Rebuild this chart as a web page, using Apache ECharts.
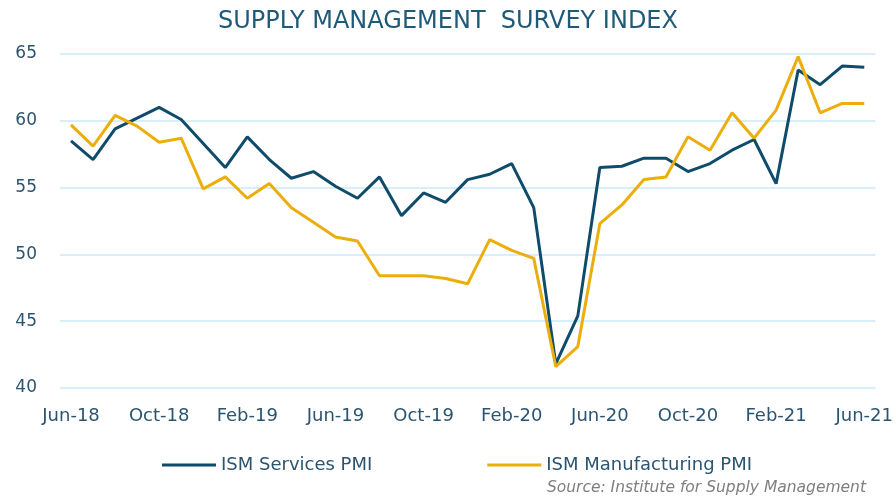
<!DOCTYPE html>
<html>
<head>
<meta charset="utf-8">
<script src="https://cdn.jsdelivr.net/npm/echarts@6/dist/echarts.min.js"></script>
<style>
html,body{margin:0;padding:0;background:#fff;}
#chart{width:896px;height:502px;}
</style>
</head>
<body>
<div id="chart"></div>
<script>
const months = ['Jun-18','Jul-18','Aug-18','Sep-18','Oct-18','Nov-18','Dec-18','Jan-19','Feb-19','Mar-19','Apr-19','May-19',
  'Jun-19','Jul-19','Aug-19','Sep-19','Oct-19','Nov-19','Dec-19','Jan-20','Feb-20','Mar-20','Apr-20','May-20',
  'Jun-20','Jul-20','Aug-20','Sep-20','Oct-20','Nov-20','Dec-20','Jan-21','Feb-21','Mar-21','Apr-21','May-21','Jun-21'];
const services = [58.5,57.1,59.4,60.2,61.0,60.1,58.3,56.5,58.8,57.1,55.7,56.2,
  55.1,54.2,55.8,52.9,54.6,53.9,55.6,56.0,56.8,53.5,41.8,45.4,
  56.5,56.6,57.2,57.2,56.2,56.8,57.8,58.6,55.3,63.8,62.7,64.1,64.0];
const manufacturing = [59.7,58.1,60.4,59.6,58.4,58.7,54.9,55.8,54.2,55.3,53.5,52.4,
  51.3,51.0,48.4,48.4,48.4,48.2,47.8,51.1,50.3,49.7,41.6,43.1,
  52.3,53.7,55.6,55.8,58.8,57.8,60.6,58.7,60.8,64.8,60.6,61.3,61.3];
const yTicks = {min: 40, max: 65, interval: 5};

const chart = echarts.init(document.getElementById('chart'));
const labelColor = '#2B5470';
const FONT = 'DejaVu Sans';
chart.setOption({
  animation: false,
  backgroundColor: '#ffffff',
  title: {
    text: 'SUPPLY MANAGEMENT  SURVEY INDEX',
    left: 'center',
    top: 5,
    textStyle: {fontFamily: FONT, fontSize: 24, fontWeight: 'normal', color: '#1F5A78'}
  },
  graphic: [{
    type: 'text',
    right: 30,
    top: 480,
    style: {text: 'Source: Institute for Supply Management', font: 'italic 15.5px "DejaVu Sans"', fill: '#7F7F7F'}
  }],
  legend: {
    left: 157,
    top: 451,
    itemWidth: 54,
    itemHeight: 3,
    itemGap: 115,
    icon: 'rect',
    textStyle: {fontFamily: FONT, fontSize: 18, color: labelColor},
    data: ['ISM Services PMI', 'ISM Manufacturing PMI']
  },
  grid: {left: 60, right: 19, top: 54, bottom: 114},
  xAxis: {
    type: 'category',
    data: months,
    boundaryGap: true,
    axisLine: {show: false},
    axisTick: {show: false},
    axisLabel: {interval: 3, margin: 19, fontFamily: FONT, fontSize: 18, color: labelColor}
  },
  yAxis: {
    type: 'value',
    min: yTicks.min, max: yTicks.max, interval: yTicks.interval,
    axisLine: {show: false},
    axisTick: {show: false},
    axisLabel: {margin: 23, fontFamily: FONT, fontSize: 17, color: labelColor},
    splitLine: {lineStyle: {color: '#C8EAF8', width: 1.5}}
  },
  series: [
    {name: 'ISM Services PMI', type: 'line', data: services, symbol: 'none',
     lineStyle: {color: '#0F4C6B', width: 3}, itemStyle: {color: '#0F4C6B'}},
    {name: 'ISM Manufacturing PMI', type: 'line', data: manufacturing, symbol: 'none',
     lineStyle: {color: '#EBAE0C', width: 3}, itemStyle: {color: '#EBAE0C'}}
  ]
});
</script>
</body>
</html>
